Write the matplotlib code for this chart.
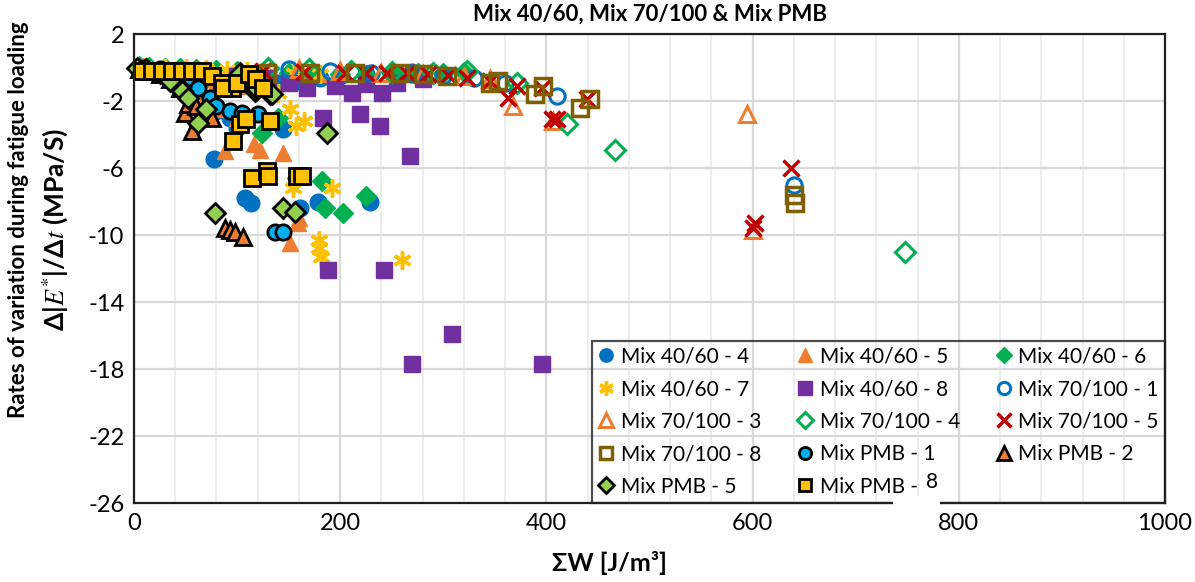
import matplotlib
matplotlib.use("Agg")
import matplotlib.pyplot as plt
from matplotlib.patches import Rectangle

plt.rcParams['font.family'] = ['Lato', 'DejaVu Sans']
plt.rcParams['mathtext.fontset'] = 'stix'
plt.rcParams['axes.unicode_minus'] = False

# ---- data ----
labels = ['Mix 40/60 - 4', 'Mix 40/60 - 5', 'Mix 40/60 - 6', 'Mix 40/60 - 7', 'Mix 40/60 - 8',
          'Mix 70/100 - 1', 'Mix 70/100 - 3', 'Mix 70/100 - 4', 'Mix 70/100 - 5', 'Mix 70/100 - 8',
          'Mix PMB - 1', 'Mix PMB - 2', 'Mix PMB - 5', 'Mix PMB -']

x_4060_4 = [5, 15, 28, 40, 55, 68, 80, 95, 110, 125, 140, 160, 180, 200, 225, 250, 270,
            62, 74, 80, 93, 100, 78, 108, 113, 161, 178, 229, 145]
y_4060_4 = [-0.1, -0.15, -0.2, -0.25, -0.3, -0.4, -0.5, -0.6, -0.7, -0.8, -0.9, -0.8, -0.6, -0.5, -0.4, -0.3, -0.25,
            -1.5, -2.0, -2.6, -3.0, -3.6, -5.45, -7.8, -8.1, -8.4, -8.0, -8.0, -3.7]

x_4060_5 = [5, 20, 35, 50, 65, 80, 100, 120, 150, 180, 88, 116, 122, 145, 151, 159, 160, 60, 70, 85, 100]
y_4060_5 = [-0.1, -0.2, -0.3, -0.5, -0.7, -0.9, -1.1, -1.3, -0.6, -0.4, -5.0, -4.55, -4.9, -5.1, -10.5, -9.3, -9.0,
            -1.8, -2.2, -2.5, -3.0]

x_4060_6 = [5, 15, 30, 45, 60, 80, 100, 125, 150, 175, 200, 225, 250, 275, 300, 320, 124, 182, 185, 203, 225, 158, 140]
y_4060_6 = [0.1, 0.05, 0, -0.05, -0.1, -0.15, -0.2, -0.25, -0.3, -0.35, -0.4, -0.45, -0.4, -0.35, -0.3, -0.25,
            -3.9, -6.75, -8.4, -8.7, -7.65, -6.6, -3.0]

x_4060_7 = [10, 30, 50, 70, 90, 110, 130, 155, 180, 151, 157, 154, 192, 179, 179, 181, 260, 140, 165]
y_4060_7 = [0.05, 0, -0.05, -0.1, -0.15, -0.2, -0.3, -0.35, -0.4, -2.5, -3.5, -7.2, -7.2, -10.3, -10.8, -11.3, -11.5,
            -1.5, -3.2]

x_4060_8 = [100, 115, 130, 150, 168, 195, 211, 241, 183, 219, 239, 268, 188, 242, 270, 308, 396, 225, 255, 280]
y_4060_8 = [-0.5, -0.7, -0.6, -0.9, -1.2, -1.1, -1.55, -1.55, -3.0, -2.8, -3.5, -5.3, -12.1, -12.1, -17.7, -15.9,
            -17.7, -1.0, -0.9, -0.7]

x_70100_1 = [150, 190, 230, 270, 300, 330, 360, 410, 640]
y_70100_1 = [-0.1, -0.2, -0.3, -0.4, -0.5, -0.6, -0.9, -1.7, -7.0]

x_70100_3 = [160, 200, 240, 280, 320, 345, 368, 406, 595, 600]
y_70100_3 = [-0.1, -0.2, -0.3, -0.4, -0.5, -0.7, -2.3, -3.2, -2.8, -9.7]

x_70100_4 = [130, 170, 210, 250, 290, 323, 371, 420, 467, 748]
y_70100_4 = [0.0, -0.1, -0.2, -0.25, -0.3, -0.2, -0.9, -3.4, -4.9, -11.0]

x_70100_5 = [125, 165, 205, 225, 245, 265, 285, 305, 323, 345, 363, 371, 396, 405, 410, 439, 600, 602, 637]
y_70100_5 = [-0.2, -0.25, -0.3, -0.3, -0.35, -0.35, -0.4, -0.45, -0.6, -0.8, -1.8, -1.1, -1.2, -3.1, -3.1, -1.9,
             -9.6, -9.3, -6.0]

x_70100_8 = [129, 171, 214, 258, 280, 304, 345, 353, 389, 397, 433, 442, 640, 641]
y_70100_8 = [-0.3, -0.3, -0.3, -0.35, -0.4, -0.5, -0.9, -0.8, -1.6, -1.1, -2.4, -1.9, -7.6, -8.1]

x_pmb_1 = [10, 25, 40, 55, 62, 74, 80, 93, 120, 137, 145, 105]
y_pmb_1 = [0.0, -0.1, -0.3, -0.6, -1.2, -1.8, -2.3, -2.6, -2.8, -9.85, -9.85, -2.7]

x_pmb_2 = [5, 15, 25, 35, 45, 49, 52, 56, 76, 88, 93, 98, 106, 60]
y_pmb_2 = [-0.1, -0.2, -0.4, -0.7, -1.2, -2.7, -2.2, -3.8, -3.0, -9.6, -9.7, -9.85, -10.1, -2.3]

x_pmb_5 = [3, 12, 25, 35, 47, 52, 62, 79, 103, 117, 119, 132, 134, 145, 156, 187, 70]
y_pmb_5 = [0.0, -0.1, -0.3, -0.8, -1.4, -1.8, -3.3, -8.7, -0.3, -1.4, -1.3, -1.6, -1.6, -8.4, -8.6, -3.9, -2.5]

x_pmb_8 = [8, 17, 27, 37, 47, 56, 66, 76, 85, 95, 86, 100, 103, 109, 132, 96, 114, 129, 130, 158, 163, 112, 118, 125]
y_pmb_8 = [-0.2, -0.2, -0.2, -0.2, -0.2, -0.2, -0.2, -0.5, -0.9, -1.2, -1.2, -0.9, -3.4, -3.1, -3.2, -4.4, -6.6,
           -6.2, -6.5, -6.5, -6.5, -0.4, -0.7, -1.2]

xs = [x_4060_4, x_4060_5, x_4060_6, x_4060_7, x_4060_8, x_70100_1, x_70100_3, x_70100_4,
      x_70100_5, x_70100_8, x_pmb_1, x_pmb_2, x_pmb_5, x_pmb_8]
ys = [y_4060_4, y_4060_5, y_4060_6, y_4060_7, y_4060_8, y_70100_1, y_70100_3, y_70100_4,
      y_70100_5, y_70100_8, y_pmb_1, y_pmb_2, y_pmb_5, y_pmb_8]

# marker, face, edge, size, edge width
styles = [
    ('o', '#0070C0', '#0070C0', 12, 1),
    ('^', '#ED7D31', '#ED7D31', 12, 1),
    ('D', '#00B050', '#00B050', 10, 1),
    ((6, 2, 0), '#FFC000', '#FFC000', 13, 2.5),
    ('s', '#7030A0', '#7030A0', 12, 1),
    ('o', 'none', '#0070C0', 11, 2.2),
    ('^', 'none', '#ED7D31', 12, 2.2),
    ('D', 'none', '#00B050', 10, 2.2),
    ('x', '#C00000', '#C00000', 12, 2.5),
    ('s', 'none', '#7F6000', 11, 2.5),
    ('o', '#00B0F0', 'black', 11, 2),
    ('^', '#ED7D31', 'black', 12, 2),
    ('D', '#92D050', 'black', 10, 2),
    ('s', '#FFC000', 'black', 11, 2),
]

fig = plt.figure(figsize=(11.95, 5.82), dpi=100)
ax = fig.add_axes([134 / 1195, 1 - 503 / 582, 1031 / 1195, 469 / 582])

handles = []
for x, y, lab, (m, fc, ec, ms, mew) in zip(xs, ys, labels, styles):
    h, = ax.plot(x, y, linestyle='none', marker=m, markerfacecolor=fc, markeredgecolor=ec,
                 markersize=ms, markeredgewidth=mew, label=lab, clip_on=False)
    handles.append(h)

ax.set_xlim(0, 1000)
ax.set_ylim(-26, 2)
ax.set_xticks(range(0, 1001, 200))
ax.set_xticks(range(0, 1001, 40), minor=True)
ax.set_yticks(range(-26, 3, 4))
ax.grid(which='major', color='#d9d9d9', lw=1.6)
ax.grid(which='minor', axis='x', color='#eeeeee', lw=1.4)
ax.set_axisbelow(True)
ax.tick_params(which='both', length=0, labelsize=17, pad=7)
for s in ax.spines.values():
    s.set_linewidth(1.6)
    s.set_color('#202020')

# legend is filled row by row in the reference; matplotlib fills by column
order = [0, 3, 6, 9, 12, 1, 4, 7, 10, 13, 2, 5, 8, 11]
leg = ax.legend([handles[i] for i in order], [labels[i] for i in order], ncol=3,
                loc='lower left', bbox_to_anchor=(0.444, 0.0, 0.556, 0.35), mode='expand',
                borderaxespad=0, fontsize=15, frameon=True, fancybox=False, markerscale=0.8,
                handlelength=0.8, handletextpad=0.3, labelspacing=0.6, columnspacing=0.5,
                borderpad=0.3)
leg.get_frame().set_facecolor('none')
leg.get_frame().set_edgecolor('#202020')
leg.get_frame().set_linewidth(1.6)

# stray "8" of the last legend entry, sitting over the border
fig.patches.append(Rectangle((893 / 1195, 1 - 510 / 582), 47 / 1195, 14 / 582,
                             transform=fig.transFigure, facecolor='white', edgecolor='none', zorder=10))
fig.text(932 / 1195, 1 - 482 / 582, '8', fontsize=15, ha='center', va='center', zorder=11)

fig.text(650 / 1195, 1 - 14 / 582, 'Mix 40/60, Mix 70/100 & Mix PMB', fontsize=16,
         fontweight='bold', ha='center', va='center')
fig.text(610 / 1195, 1 - 563 / 582, 'ΣW [J/m³]', fontsize=18, fontweight='bold',
         ha='center', va='center')
fig.text(19 / 1195, 1 - 220 / 582, 'Rates of variation during fatigue loading', fontsize=16,
         fontweight='bold', rotation=90, ha='center', va='center')
fig.text(55 / 1195, 1 - 229 / 582, r'Δ|$E^{*}$|/Δ$t$ (MPa/S)', fontsize=19,
         fontweight='bold', rotation=90, ha='center', va='center')

fig.savefig('out.png', dpi=100)
